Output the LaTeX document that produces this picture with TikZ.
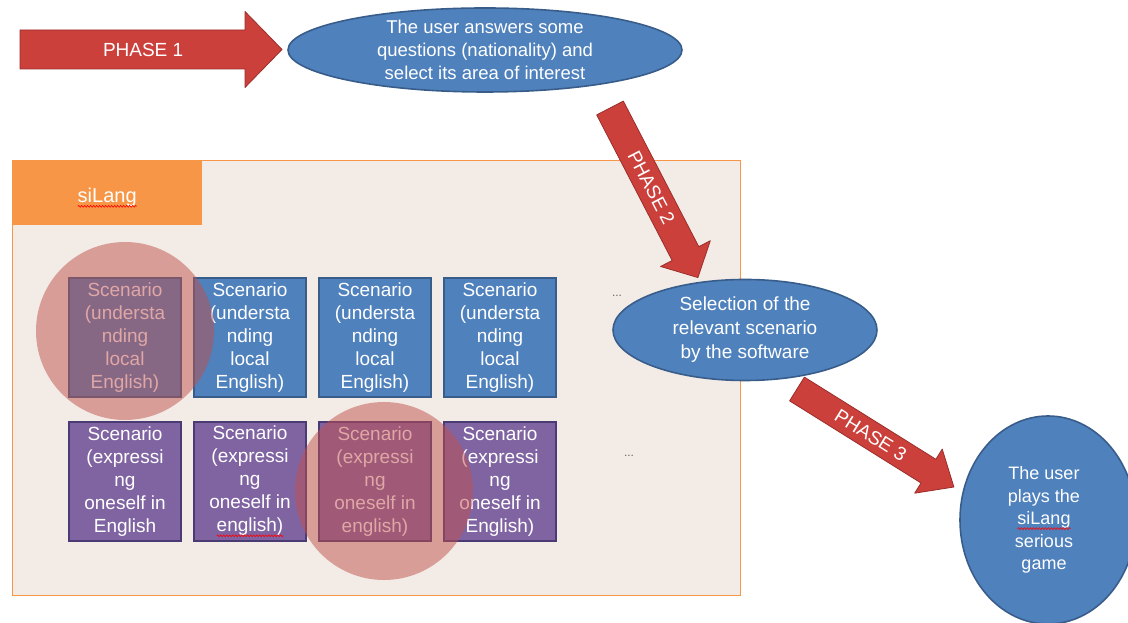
\documentclass[tikz,border=0pt]{standalone}
\usepackage{fontspec}
\setmainfont{Liberation Sans}
\usetikzlibrary{positioning,shapes.geometric,decorations.pathmorphing}

\definecolor{ppblue}{HTML}{4F81BD}
\definecolor{ppblueline}{HTML}{385D8A}
\definecolor{pppurple}{HTML}{8064A2}
\definecolor{pppurpleline}{HTML}{4B3B74}
\definecolor{pporange}{HTML}{F79646}
\definecolor{ppred}{HTML}{CC403C}
\definecolor{ppredline}{HTML}{9A2E2B}
\definecolor{ppbeige}{HTML}{F3EBE5}
\definecolor{pphigh}{HTML}{C0504D}

% red wavy spell-check mark
\newcommand{\spellmark}[1]{\tikz[baseline=(sw.base)]{\node[shape=rectangle,draw=none,fill=none,
    inner sep=0pt,outer sep=0pt,minimum width=0pt,minimum height=0pt,align=left] (sw) {#1};
  \draw[red,line width=0.6pt,decorate,decoration={snake,amplitude=0.9pt,segment length=3pt}]
    ([yshift=-4pt]sw.base west) -- ([yshift=-4pt]sw.base east);}}

\tikzset{
  pics/phase/.style n args={5}{code={
    % #1 length, #2 half shaft, #3 half head, #4 head length, #5 label
    \filldraw[phasearrow] (0,-#2) -- ({#1-#4},-#2) -- ({#1-#4},-#3) -- (#1,0)
      -- ({#1-#4},#3) -- ({#1-#4},#2) -- (0,#2) -- cycle;
    \node[phaselabel] (-label) at ({0.47*#1},0) {#5};
  }},
}

\begin{document}
\begin{tikzpicture}[x=1pt,y=1pt,
  phasearrow/.style={fill=ppred,draw=ppredline,line width=0.8pt,line join=round},
  phaselabel/.style={text=white,font=\fontsize{19}{23}\selectfont,transform shape,inner sep=0},
  bubble/.style={ellipse,fill=ppblue,draw=ppblueline,line width=1.6pt,inner sep=0},
  bubbletext/.style={text=white,align=center,inner sep=0},
  scenbox/.style={rectangle,minimum width=112pt,minimum height=119pt,inner sep=0,
    line width=1.2pt,text=white,align=center,font=\fontsize{19}{23}\selectfont},
  scenu/.style={scenbox,fill=ppblue,draw=ppblueline},
  scene/.style={scenbox,fill=pppurple,draw=pppurpleline},
  highlight/.style={circle,fill=pphigh,opacity=0.5,minimum size=178pt,inner sep=0},
  dots/.style={text=black!60,font=\fontsize{12}{14}\selectfont}]

  \useasboundingbox (0,0) rectangle (1128,623);

  % the game frame
  \node[draw=pporange,fill=ppbeige,line width=1pt,minimum width=728pt,minimum height=435pt,
    anchor=north west,inner sep=0] (game) at (12,463) {};
  \node[fill=pporange,minimum width=190pt,minimum height=65pt,anchor=north west,inner sep=0]
    (gamehead) at (game.north west) {};
  \node[text=white,font=\fontsize{20}{24}\selectfont,inner sep=0] (gametitle)
    at ([yshift=-5pt]gamehead.center) {\spellmark{siLang}};

  % scenarios
  \foreach \col in {1,...,4}{
    \node[scenu] (under\col) at ({125*\col},285.5) {Scenario\\(understa\\nding\\local\\English)};
  }
  \foreach \col/\lang in {1/English,2/\spellmark{english)},3/english),4/English)}{
    \node[scene] (expr\col) at ({125*\col},141.5) {Scenario\\(expressi\\ng\\oneself in\\\lang};
  }

  % chosen scenarios
  \node[highlight] (pick1) at (125,292) {};
  \node[highlight] (pick2) at (384,132) {};

  \node[dots] (moreu) at (617,327) {...};
  \node[dots] (moree) at (629,167) {...};

  % bubbles
  \node[bubble,minimum width=394pt,minimum height=84pt] (ask) at (485,573) {};
  \node[bubbletext,font=\fontsize{18.5}{23}\selectfont] (asktext) at (ask)
    {The user answers some\\questions (nationality) and\\select its area of interest};

  \node[bubble,minimum width=264pt,minimum height=101pt] (select) at (745,293) {};
  \node[bubbletext,font=\fontsize{19}{24}\selectfont] (selecttext) at (select)
    {Selection of the\\relevant scenario\\by the software};

  \node[bubble,minimum width=176pt,minimum height=208pt] (play) at (1048,103) {};
  \node[bubbletext,font=\fontsize{18}{22.5}\selectfont] (playtext) at ([xshift=-4pt]play.center)
    {The user\\plays the\\\spellmark{siLang}\\serious\\game};

  % phases
  \pic (ph1) at (20,573.5) {phase={262}{19.5}{38}{37}{PHASE 1}};
  \pic[rotate=-62.6] (ph2) at (610,515) {phase={191}{15}{28}{27}{PHASE 2}};
  \pic[rotate=-32] (ph3) at (797,234) {phase={185}{14}{26}{30}{PHASE 3}};
\end{tikzpicture}
\end{document}
